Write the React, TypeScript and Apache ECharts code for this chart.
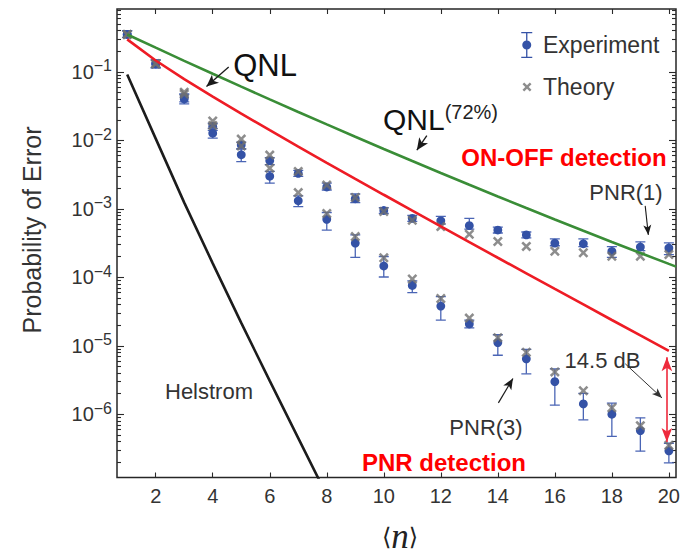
import React, { useEffect, useRef } from "react";
import * as echarts from "echarts";

// ---------- data (probabilities of error) ----------
const N = [1, 2, 3, 4, 5, 6, 7, 8, 9, 10, 11, 12, 13, 14, 15, 16, 17, 18, 19, 20];

const qnlRed = [0.299, 0.1469, 0.0786, 0.04355, 0.0246, 0.01407, 0.00811, 0.00471, 0.002744, 0.001606,
  9.42e-4, 5.54e-4, 3.27e-4, 1.93e-4, 1.142e-4, 6.76e-5, 4.01e-5, 2.38e-5, 1.414e-5, 8.41e-6];

const nGreen = [1, 2, 3, 4, 5, 6, 7, 8, 9, 10, 11, 12, 13, 14, 15, 16, 17, 18, 19, 20, 20.25];
const qnl72Green = [0.3525, 0.2259, 0.1453, 0.0939, 0.061, 0.03975, 0.02602, 0.01711, 0.0113, 0.0075,
  0.004995, 0.003343, 0.002246, 0.001516, 0.001028, 7.0e-4, 4.79e-4, 3.286e-4, 2.266e-4, 1.571e-4, 1.434e-4];

const nHelstrom = [1, 2, 3, 4, 5, 6, 7, 8];
const helstrom = [0.0914, 0.01061, 1.233e-3, 1.6e-4, 2.16e-5, 3.07e-6, 4.48e-7, 6.55e-8];

const pnr1Exp = [0.3525, 0.1314, 0.04294, 0.01601, 0.008568, 0.005062, 0.0033, 0.002082, 0.001404, 9.456e-4,
  7.27e-4, 6.69e-4, 5.68e-4, 4.9e-4, 4.16e-4, 3.16e-4, 3.09e-4, 2.4e-4, 2.77e-4, 2.68e-4];
const pnr1Hi = [0.402, 0.1499, 0.04739, 0.01767, 0.009456, 0.005587, 0.003641, 0.002375, 0.001654, 0.001044,
  8.02e-4, 7.76e-4, 7.27e-4, 5.41e-4, 4.59e-4, 3.64e-4, 3.64e-4, 2.8e-4, 3.3e-4, 3.19e-4];
const pnr1Lo = [0.3193, 0.1151, 0.03641, 0.01404, 0.007511, 0.004437, 0.00299, 0.001886, 0.00123, 8.57e-4,
  6.58e-4, 5.97e-4, 5.06e-4, 4.44e-4, 3.77e-4, 2.89e-4, 2.8e-4, 1.95e-4, 2.45e-4, 2.15e-4];
const pnr1Theory = [0.3525, 0.1314, 0.0506, 0.01918, 0.01044, 0.0061, 0.003524, 0.002224, 0.001464, 9.15e-4,
  6.81e-4, 5.5e-4, 4.25e-4, 3.33e-4, 2.83e-4, 2.4e-4, 2.28e-4, 2.03e-4, 2.03e-4, 2.15e-4];

const pnr3Exp = [0.3525, 0.1314, 0.04021, 0.01272, 0.006166, 0.00299, 0.001314, 7.03e-4, 3.16e-4, 1.464e-4,
  7.59e-5, 3.8e-5, 2.08e-5, 1.114e-5, 6.44e-6, 2.99e-6, 1.417e-6, 1.0e-6, 5.77e-7, 2.92e-7];
const pnr3Hi = [0.402, 0.1499, 0.04739, 0.01498, 0.007511, 0.003524, 0.001549, 8.85e-4, 4.16e-4, 2.015e-4,
  8.85e-5, 5.23e-5, 2.375e-5, 1.45e-5, 8.85e-6, 4.59e-6, 2.015e-6, 1.45e-6, 8.85e-7, 3.77e-7];
const pnr3Lo = [0.3193, 0.1151, 0.0341, 0.01079, 0.004898, 0.002375, 0.001079, 4.9e-4, 1.95e-4, 1.01e-4,
  5.97e-5, 2.375e-5, 1.826e-5, 7.27e-6, 3.89e-6, 1.358e-6, 8.29e-7, 4.74e-7, 2.89e-7, 1.95e-7];
const pnr3Theory = [0.3525, 0.1314, 0.04739, 0.01654, 0.00829, 0.003929, 0.001726, 8.57e-4, 3.93e-4, 1.93e-4,
  9.46e-5, 4.9e-5, 2.537e-5, 1.314e-5, 8.02e-6, 4.155e-6, 2.2e-6, 1.243e-6, 6.81e-7, 3.524e-7];

const xTickValues = [2, 4, 6, 8, 10, 12, 14, 16, 18, 20];
const yMajorExponents = [-6, -5, -4, -3, -2, -1];

// annotation arrows in data units ([n, Probability])
const arrowQNL = [[4.56, 0.1178], [3.78, 0.0611]];
const arrowQNL72 = [[11.51, 0.01178], [11.16, 0.0072]];
const arrowPNR1 = [[19.17, 0.001104], [19.28, 4.16e-4]];
const arrowPNR3 = [[14.02, 1.466e-6], [14.53, 3.33e-6]];
const arrowDB = [[18.47, 5.46e-6], [19.76, 1.73e-6]];
const arrowGap = [[19.93, 6.8e-6], [19.93, 3.93e-7]];

// ---------- helpers ----------
const FONT = "'Liberation Sans', Arial, sans-serif";
const X_MIN = 0.642;
const X_MAX = 20.25;
const Y_MIN = -6.924;
const Y_MAX = -0.081;
const lg = (v: number) => Math.log10(v);

const BLUE_DOT = "#3452a6";
const BLUE_BAR = "#4a65b5";
const GRAY = "#707070";
const TEXT = "#333333";

const minorY: number[] = [];
for (let m = -8; m <= 0; m++) {
  for (let k = 2; k <= 9; k++) {
    const v = m + Math.log10(k);
    if (v > Y_MIN && v < Y_MAX) minorY.push(v);
  }
}

const CROSS =
  "path://M0 1.8 L1.8 0 L5 3.2 L8.2 0 L10 1.8 L6.8 5 L10 8.2 L8.2 10 L5 6.8 L1.8 10 L0 8.2 L3.2 5 Z";
const LEGEND_EXP =
  "path://M0.5 0 H11.5 V1.3 H0.5 Z M5.35 1.3 H6.65 V8.4 H5.35 Z M5.35 17.6 H6.65 V24.7 H5.35 Z M0.5 24.7 H11.5 V26 H0.5 Z M1.5 13 A4.5 4.5 0 1 1 10.5 13 A4.5 4.5 0 1 1 1.5 13 Z M17 26 L16.99 26 L17 25.99 Z";
const LEGEND_TH =
  "path://M0 0 L0.01 0 L0 0.01 Z M1.5 10.2 L3.2 8.5 L6 11.3 L8.8 8.5 L10.5 10.2 L7.7 13 L10.5 15.8 L8.8 17.5 L6 14.7 L3.2 17.5 L1.5 15.8 L4.3 13 Z M17 26 L16.99 26 L17 25.99 Z";

const errRender = (params: any, api: any) => {
  const x = api.value(0);
  const p = api.coord([x, api.value(1)]);
  const pl = api.coord([x, api.value(2)]);
  const ph = api.coord([x, api.value(3)]);
  const cap = 5;
  const ls = { stroke: BLUE_BAR, lineWidth: 1.3 };
  return {
    type: "group",
    children: [
      { type: "line", shape: { x1: p[0], y1: ph[1], x2: p[0], y2: pl[1] }, style: ls },
      { type: "line", shape: { x1: p[0] - cap, y1: ph[1], x2: p[0] + cap, y2: ph[1] }, style: ls },
      { type: "line", shape: { x1: p[0] - cap, y1: pl[1], x2: p[0] + cap, y2: pl[1] }, style: ls },
      { type: "circle", shape: { cx: p[0], cy: p[1], r: 4.4 }, style: { fill: BLUE_DOT } },
    ],
  };
};

const arrowItem = (a: number[][], color: string, width: number, size: number[], both = false) => [
  { coord: [a[0][0], lg(a[0][1])], symbol: both ? "arrow" : "none", symbolSize: size, lineStyle: { color, width, type: "solid" } },
  { coord: [a[1][0], lg(a[1][1])], symbol: "arrow", symbolSize: size, lineStyle: { color, width, type: "solid" } },
];

const yBase = {
  type: "value",
  min: Y_MIN,
  max: Y_MAX,
  splitLine: { show: false },
  axisLine: { show: false },
};
const xBase = {
  type: "value",
  min: X_MIN,
  max: X_MAX,
  splitLine: { show: false },
  axisLine: { show: false },
};
const tickStyle = { color: "#2a2a2a", width: 1.1 };

export default function App() {
  const ref = useRef<HTMLDivElement>(null);

  useEffect(() => {
    if (!ref.current) return;
    const chart = echarts.init(ref.current, null, { renderer: "svg" });

    const option: any = {
      animation: false,
      backgroundColor: "#ffffff",
      textStyle: { fontFamily: FONT },
      grid: {
        left: 117,
        right: 8,
        top: 9,
        bottom: 71,
        show: true,
        borderColor: "#262626",
        borderWidth: 1.5,
        backgroundColor: "transparent",
      },
      legend: {
        data: [
          { name: "Experiment", icon: LEGEND_EXP },
          { name: "Theory", icon: LEGEND_TH },
        ],
        orient: "vertical",
        left: 521,
        top: 32,
        itemWidth: 17,
        itemHeight: 26,
        itemGap: 16,
        padding: 0,
        selectedMode: false,
        textStyle: { fontSize: 23, color: TEXT, fontFamily: FONT },
      },
      xAxis: [
        {
          ...xBase,
          position: "bottom",
          axisTick: { show: true, inside: true, length: 5, customValues: xTickValues, lineStyle: tickStyle },
          axisLabel: { customValues: xTickValues, fontSize: 20, color: TEXT, margin: 8, fontFamily: FONT },
          name: "{a|⟨}{n|n}{a|⟩}",
          nameLocation: "middle",
          nameGap: 39,
          nameTextStyle: {
            padding: [0, 0, 0, 7],
            rich: {
              a: { fontSize: 24, fontFamily: "'DejaVu Sans', sans-serif", color: "#222", lineHeight: 40 },
              n: { fontSize: 35, fontFamily: "'Liberation Serif', serif", fontStyle: "italic", color: "#222", lineHeight: 40 },
            },
          },
        },
        {
          ...xBase,
          position: "top",
          axisTick: { show: true, inside: true, length: 5, customValues: xTickValues, lineStyle: tickStyle },
          axisLabel: { show: false },
        },
      ],
      yAxis: [
        {
          ...yBase,
          position: "left",
          axisTick: { show: true, inside: true, length: 7, customValues: yMajorExponents, lineStyle: tickStyle },
          axisLabel: {
            customValues: yMajorExponents,
            margin: 5,
            formatter: (v: number) => {
              const e = Math.round(v);
              return `{b|10}{s|${e < 0 ? "\u2212" : ""}${Math.abs(e)}}`;
            },
            rich: {
              b: { fontSize: 20, lineHeight: 28, color: TEXT, fontFamily: FONT },
              s: { fontSize: 16, lineHeight: 12, verticalAlign: "top", color: TEXT, fontFamily: FONT },
            },
          },
        },
        {
          ...yBase,
          position: "left",
          axisTick: { show: true, inside: true, length: 4, customValues: minorY, lineStyle: tickStyle },
          axisLabel: { show: false },
        },
        {
          ...yBase,
          position: "right",
          axisTick: { show: true, inside: true, length: 7, customValues: yMajorExponents, lineStyle: tickStyle },
          axisLabel: { show: false },
        },
        {
          ...yBase,
          position: "right",
          axisTick: { show: true, inside: true, length: 4, customValues: minorY, lineStyle: tickStyle },
          axisLabel: { show: false },
        },
      ],
      series: [
        {
          type: "line",
          name: "Helstrom",
          data: nHelstrom.map((n, i) => [n, lg(helstrom[i])]),
          showSymbol: false,
          symbol: "none",
          lineStyle: { color: "#1c1c1c", width: 2.6 },
          itemStyle: { color: "#1c1c1c" },
          clip: true,
          markLine: {
            silent: true,
            animation: false,
            label: { show: false },
            emphasis: { disabled: true },
            data: [
              arrowItem(arrowQNL, "#1a1a1a", 1.3, [8, 12]),
              arrowItem(arrowQNL72, "#1a1a1a", 1.3, [8, 12]),
              arrowItem(arrowPNR1, "#1a1a1a", 1.1, [6, 10]),
              arrowItem(arrowPNR3, "#1a1a1a", 1.2, [7, 11]),
              arrowItem(arrowDB, "#333333", 1.0, [6, 10]),
              arrowItem(arrowGap, "#ee2a3c", 1.6, [8, 14], true),
            ],
          },
        },
        {
          type: "line",
          name: "QNL",
          data: N.map((n, i) => [n, lg(qnlRed[i])]),
          showSymbol: false,
          symbol: "none",
          lineStyle: { color: "#ee1c25", width: 2.6 },
          itemStyle: { color: "#ee1c25" },
        },
        {
          type: "line",
          name: "QNL(72%)",
          data: nGreen.map((n, i) => [n, lg(qnl72Green[i])]),
          showSymbol: false,
          symbol: "none",
          lineStyle: { color: "#3a8d37", width: 2.6 },
          itemStyle: { color: "#3a8d37" },
          clip: true,
        },
        {
          type: "scatter",
          name: "Theory",
          data: N.map((n, i) => [n, lg(pnr1Theory[i])]),
          symbol: CROSS,
          symbolSize: 10,
          itemStyle: { color: GRAY },
        },
        {
          type: "scatter",
          name: "Theory",
          data: N.map((n, i) => [n, lg(pnr3Theory[i])]),
          symbol: CROSS,
          symbolSize: 10,
          itemStyle: { color: GRAY },
        },
        {
          type: "custom",
          name: "Experiment",
          data: N.map((n, i) => [n, lg(pnr1Exp[i]), lg(pnr1Lo[i]), lg(pnr1Hi[i])]),
          encode: { x: 0, y: 1 },
          renderItem: errRender,
          itemStyle: { color: BLUE_DOT },
          clip: true,
        },
        {
          type: "custom",
          name: "Experiment",
          data: N.map((n, i) => [n, lg(pnr3Exp[i]), lg(pnr3Lo[i]), lg(pnr3Hi[i])]),
          encode: { x: 0, y: 1 },
          renderItem: errRender,
          itemStyle: { color: BLUE_DOT },
          clip: true,
        },
      ],
      graphic: [
        {
          type: "text",
          x: 32,
          y: 230,
          rotation: Math.PI / 2,
          style: {
            text: "Probability of Error",
            fontSize: 25,
            fontFamily: FONT,
            fill: TEXT,
            align: "center",
            verticalAlign: "middle",
            textAlign: "center",
            textVerticalAlign: "middle",
          },
        },
        {
          type: "text",
          x: 265,
          y: 65,
          style: { text: "QNL", fontSize: 31, fontFamily: FONT, fill: "#111", align: "center", verticalAlign: "middle", textAlign: "center", textVerticalAlign: "middle" },
        },
        {
          type: "text",
          x: 383,
          y: 119,
          style: {
            text: "{q|QNL}{s|(72%)}",
            align: "left",
            verticalAlign: "middle",
            textAlign: "left",
            textVerticalAlign: "middle",
            rich: {
              q: { fontSize: 30, lineHeight: 34, fontFamily: FONT, fill: "#111" },
              s: { fontSize: 20, lineHeight: 32, verticalAlign: "top", fontFamily: FONT, fill: "#222" },
            },
          },
        },
        {
          type: "text",
          x: 564,
          y: 157,
          style: { text: "ON-OFF detection", fontSize: 24, fontWeight: "bold", fontFamily: FONT, fill: "#ff0000", align: "center", verticalAlign: "middle", textAlign: "center", textVerticalAlign: "middle" },
        },
        {
          type: "text",
          x: 626,
          y: 192.5,
          style: { text: "PNR(1)", fontSize: 22, fontFamily: FONT, fill: TEXT, align: "center", verticalAlign: "middle", textAlign: "center", textVerticalAlign: "middle" },
        },
        {
          type: "text",
          x: 602.5,
          y: 360,
          style: { text: "14.5 dB", fontSize: 22, fontFamily: FONT, fill: TEXT, align: "center", verticalAlign: "middle", textAlign: "center", textVerticalAlign: "middle" },
        },
        {
          type: "text",
          x: 486,
          y: 427,
          style: { text: "PNR(3)", fontSize: 22, fontFamily: FONT, fill: TEXT, align: "center", verticalAlign: "middle", textAlign: "center", textVerticalAlign: "middle" },
        },
        {
          type: "text",
          x: 165,
          y: 391,
          style: { text: "Helstrom", fontSize: 22, fontFamily: FONT, fill: TEXT, align: "left", verticalAlign: "middle", textAlign: "left", textVerticalAlign: "middle" },
        },
        {
          type: "text",
          x: 444,
          y: 462,
          style: { text: "PNR detection", fontSize: 24, fontWeight: "bold", fontFamily: FONT, fill: "#ff0000", align: "center", verticalAlign: "middle", textAlign: "center", textVerticalAlign: "middle" },
        },
      ],
    };

    chart.setOption(option);
    return () => chart.dispose();
  }, []);

  return (
    <div
      ref={ref}
      style={{ position: "fixed", left: 0, top: 0, width: 684, height: 559, background: "#fff" }}
    />
  );
}
